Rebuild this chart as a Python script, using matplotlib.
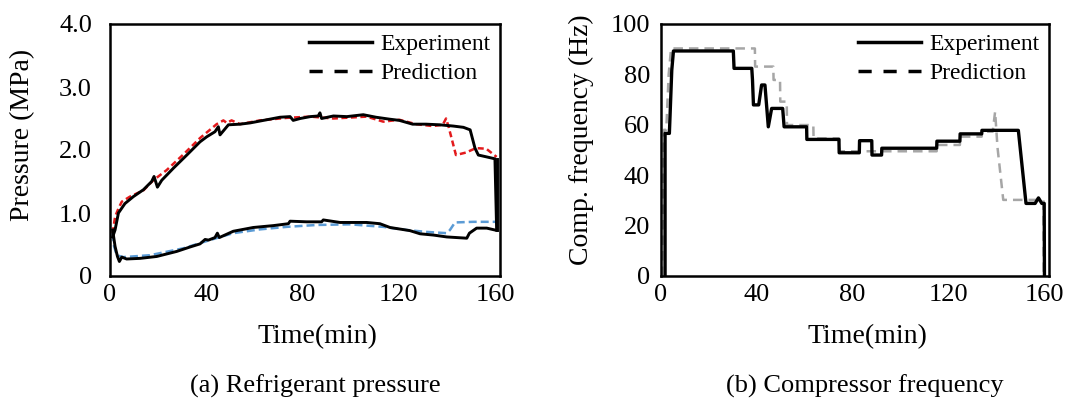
import matplotlib
matplotlib.use("Agg")
import matplotlib.pyplot as plt
from matplotlib.lines import Line2D

plt.rcParams['font.family'] = ['Liberation Serif', 'DejaVu Serif']

# ---------------- data: (a) refrigerant pressure ----------------
t_cond_exp = [1.1, 2.1, 3.5, 6.2, 9.7, 13.9, 17.3, 18.3, 19.7, 21.5, 26.3, 31.9, 37.4, 40.2,
              43.6, 45.0, 45.7, 49.2, 54.0, 58.2, 65.1, 70.6, 74.8, 76.1, 79.0, 83.2, 86.5,
              87.2, 87.9, 92.8, 98.4, 105.2, 110.5, 116.0, 120.2, 125.7, 131.3, 136.9,
              142.6, 146.8, 149.6, 151.6, 153.0, 156.5, 159.9, 160.6]
p_cond_exp = [0.62, 0.73, 1.00, 1.15, 1.26, 1.37, 1.50, 1.58, 1.41, 1.52, 1.71, 1.92, 2.13, 2.21,
              2.29, 2.37, 2.24, 2.40, 2.41, 2.43, 2.48, 2.52, 2.53, 2.47, 2.50, 2.53, 2.54,
              2.59, 2.50, 2.54, 2.53, 2.56, 2.52, 2.49, 2.47, 2.41, 2.41, 2.40,
              2.38, 2.36, 2.32, 2.03, 1.92, 1.89, 1.86, 0.73]

t_cond_pred = [1.1, 2.1, 3.5, 4.9, 8.3, 13.9, 18.0, 23.5, 30.5, 37.4, 41.5, 44.3, 47.1, 48.5,
               50.5, 54.0, 62.3, 73.4, 83.2, 92.8, 106.6, 113.5, 120.2, 127.1, 134.0, 138.2,
               139.6, 140.7, 143.7, 147.9, 152.0, 156.3, 160.6]
p_cond_pred = [0.68, 0.94, 1.07, 1.18, 1.26, 1.36, 1.52, 1.68, 1.93, 2.19, 2.32, 2.41, 2.47, 2.43,
               2.47, 2.41, 2.47, 2.51, 2.53, 2.50, 2.53, 2.45, 2.48, 2.41, 2.38, 2.40,
               2.50, 2.36, 1.92, 1.96, 2.03, 2.02, 1.89]

t_evap_exp = [1.1, 2.1, 3.1, 3.9, 4.9, 6.9, 12.5, 19.4, 27.7, 33.2, 37.4, 39.5, 40.9, 43.6,
              44.6, 45.4, 51.2, 59.5, 67.9, 74.1, 74.8, 81.7, 87.9, 88.6, 95.5, 106.6, 112.1,
              116.3, 124.6, 128.8, 134.3, 139.9, 148.2, 149.3, 152.3, 156.5, 159.9]
p_evap_exp = [0.73, 0.47, 0.31, 0.23, 0.30, 0.27, 0.28, 0.31, 0.39, 0.46, 0.51, 0.58, 0.57, 0.61,
              0.68, 0.61, 0.71, 0.77, 0.80, 0.83, 0.87, 0.86, 0.86, 0.89, 0.85, 0.85, 0.83,
              0.77, 0.72, 0.67, 0.65, 0.62, 0.60, 0.68, 0.76, 0.76, 0.73]

t_evap_pred = [1.1, 1.7, 2.8, 5.5, 16.6, 30.5, 41.5, 51.2, 62.3, 73.4, 85.9, 99.7, 113.5, 123.2,
               131.5, 139.9, 141.2, 143.3, 150.9, 160.6]
p_evap_pred = [0.68, 0.47, 0.33, 0.30, 0.33, 0.44, 0.57, 0.68, 0.74, 0.78, 0.81, 0.82, 0.78, 0.73,
               0.70, 0.68, 0.73, 0.85, 0.86, 0.86]

# ---------------- data: (b) compressor frequency ----------------
t_freq_exp = [1.7, 1.7, 3.5, 4.5, 5.2, 30.2, 30.5, 37.9, 38.2, 38.6, 40.8, 42.0, 43.4, 44.8,
              46.2, 50.8, 51.4, 60.8, 60.9, 74.3, 74.4, 82.8, 82.9, 88.0, 88.1, 92.1, 92.2,
              115.1, 115.2, 124.8, 124.9, 133.9, 134.0, 149.2, 152.4, 156.2, 157.6, 159.0,
              160.0, 160.1]
f_freq_exp = [0, 56.6, 56.6, 81.7, 89.3, 89.3, 82.4, 82.4, 77.8, 67.9, 67.9, 75.8, 75.8, 59.2,
              66.5, 66.5, 59.2, 59.2, 54.2, 54.2, 48.9, 48.9, 53.7, 53.7, 48.0, 48.0, 50.7,
              50.7, 53.5, 53.5, 56.4, 56.4, 57.8, 57.8, 28.8, 28.8, 31.0, 28.8,
              28.8, 0]

t_freq_pred = [0.4, 1.2, 2.2, 3.2, 4.2, 39.2, 39.3, 46.9, 47.0, 49.7, 49.8, 52.5, 52.6, 63.6,
               63.7, 74.3, 74.4, 115.1, 115.2, 124.8, 124.9, 133.9, 134.0, 138.5, 139.5,
               140.5, 142.9, 159.7, 159.8]
f_freq_pred = [0, 58.0, 58.0, 80.0, 90.3, 90.3, 83.1, 83.1, 77.8, 77.8, 69.2, 69.2, 59.9, 59.9,
               54.6, 54.6, 49.5, 49.5, 52.0, 52.0, 55.3, 55.3, 57.3, 57.3, 65.2,
               51.0, 30.2, 30.2, 0]

x_ticks = [0, 40, 80, 120, 160]
p_ticks = [0, 1, 2, 3, 4]
p_ticklabels = ['0', '1.0', '2.0', '3.0', '4.0']
f_ticks = [0, 20, 40, 60, 80, 100]
f_ticklabels = ['0', '20', '40', '60', '80', '100']

# ---------------- figure ----------------
W, H = 1072, 401
fig = plt.figure(figsize=(W / 100, H / 100), dpi=100)

def px_axes(x0, x1, y0, y1):
    return fig.add_axes([x0 / W, 1 - y1 / H, (x1 - x0) / W, (y1 - y0) / H])

axL = px_axes(110, 500, 24, 276)
axR = px_axes(661, 1049, 24, 276)

RED = '#e31a1c'
BLUE = '#5b9bd5'
GREY = '#a6a6a6'

axL.plot(t_cond_pred, p_cond_pred, color=RED, lw=1.8, ls=(0, (2.4, 1.4)))
axL.plot(t_evap_pred, p_evap_pred, color=BLUE, lw=1.8, ls=(0, (3.2, 1.6)))
axL.plot(t_cond_exp, p_cond_exp, color='black', lw=2.1)
axL.plot(t_evap_exp, p_evap_exp, color='black', lw=2.1)
# closing vertical line at the end of the test
axL.plot([t_cond_exp[-1], t_evap_exp[-1] + 0.7], [p_cond_exp[-2], p_evap_exp[-1]], color='black', lw=2.1)

axR.plot(t_freq_pred, f_freq_pred, color=GREY, lw=1.8, ls=(0, (3.8, 2.4)))
axR.plot(t_freq_exp, f_freq_exp, color='black', lw=2.4)

for ax in (axL, axR):
    ax.set_xlim(0, 162)
    ax.set_xticks(x_ticks)
    ax.set_xticklabels([str(v) for v in x_ticks])
    ax.tick_params(length=0, labelsize=19)
    ax.tick_params(axis='x', pad=6)
    for s in ax.spines.values():
        s.set_linewidth(1.8)
        s.set_color('black')
    ax.set_xlabel('Time(min)', fontsize=20)
    ax.xaxis.label.set_va('center')
    ax.yaxis.label.set_va('center')
    handles = [Line2D([], [], color='black', lw=2.5),
               Line2D([], [], color='black', lw=2.5, ls=(0, (3.8, 3.4)))]
    ax.legend(handles, ['Experiment', 'Prediction'], loc='upper right',
              bbox_to_anchor=(0.975, 0.962), frameon=False, fontsize=17,
              handlelength=2.65, handletextpad=0.35, labelspacing=0.33,
              borderpad=0.0, borderaxespad=0.0)

axL.set_ylim(0, 4)
axL.set_yticks(p_ticks)
axL.set_yticklabels(p_ticklabels)
axL.tick_params(axis='y', pad=13)
axL.set_ylabel('Pressure (MPa)', fontsize=20)
axL.yaxis.set_label_coords(-0.223, 0.56)
axL.xaxis.set_label_coords(0.531, -0.242)

axR.set_ylim(0, 100)
axR.set_yticks(f_ticks)
axR.set_yticklabels(f_ticklabels)
axR.tick_params(axis='y', pad=8)
axR.set_ylabel('Comp. frequency (Hz)', fontsize=20)
axR.yaxis.set_label_coords(-0.204, 0.54)
axR.xaxis.set_label_coords(0.531, -0.242)

fig.text(315 / W, 1 - 386 / H, '(a) Refrigerant pressure', fontsize=19, ha='center', va='center')
fig.text(865 / W, 1 - 386 / H, '(b) Compressor frequency', fontsize=19, ha='center', va='center')

fig.savefig('out.png', dpi=100)
